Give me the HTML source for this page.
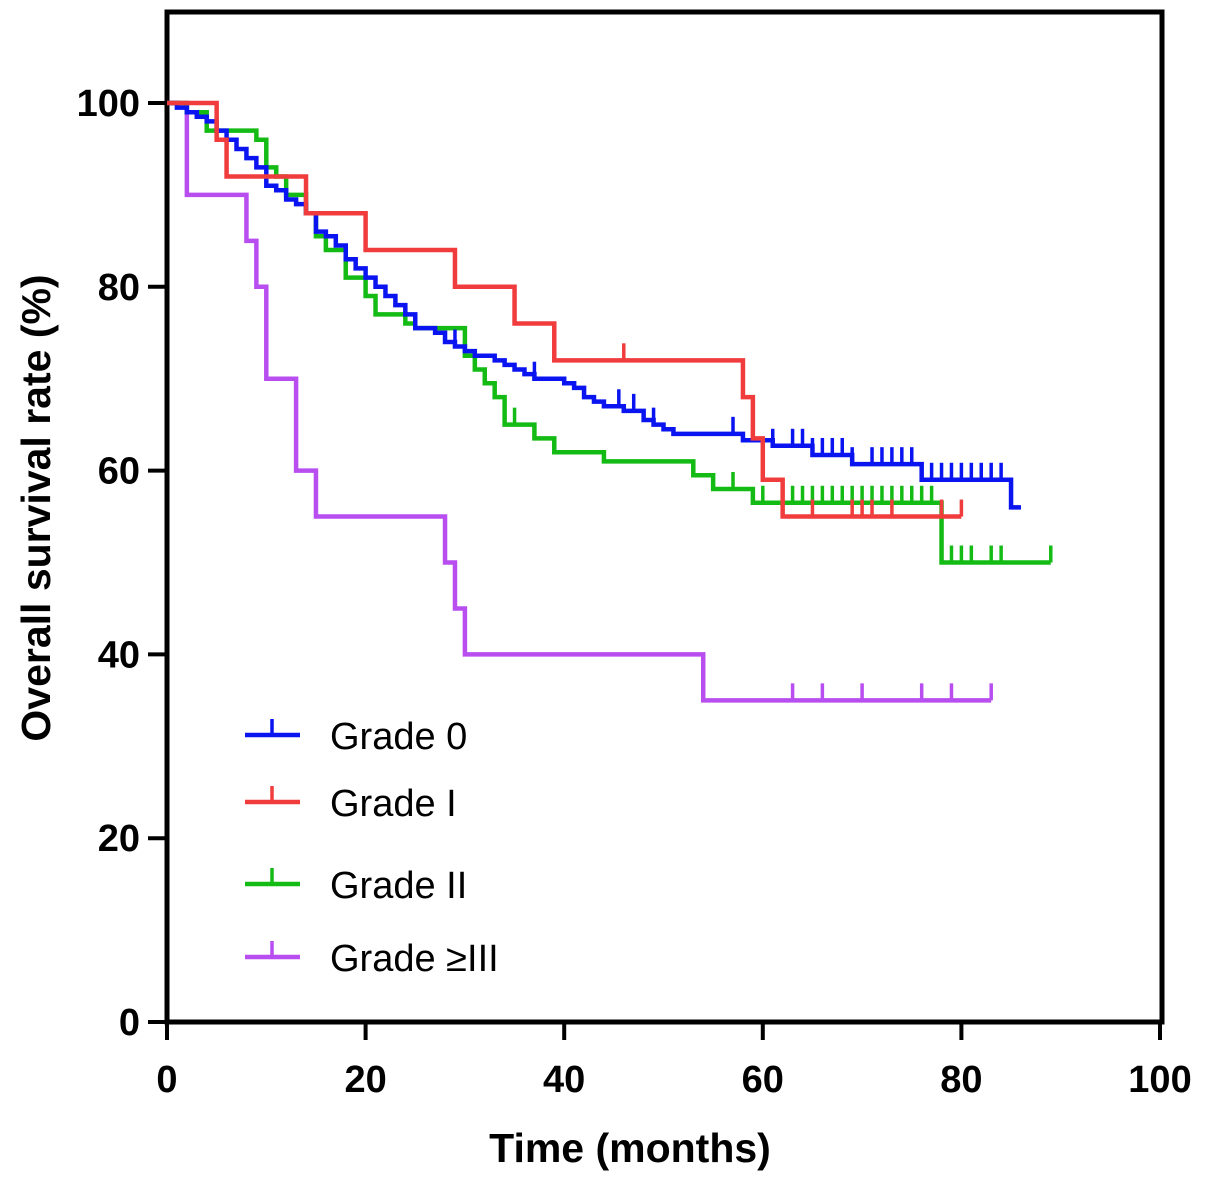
<!DOCTYPE html>
<html><head><meta charset="utf-8"><style>
body{margin:0;background:#fff;}
svg{display:block;font-family:"Liberation Sans",Arial,sans-serif;}
</style></head><body>
<svg id="chart" width="1205" height="1181"></svg>
<script>
const xTicks=[0,20,40,60,80,100];
const yTicks=[0,20,40,60,80,100];
const g0T=[0,1,2,3,4,5,6,7,8,9,10,11,12,13,14,15,16,17,18,19,20,21,22,23,24,25,27,28,29,30,31,33,34,35,36,37,40,41,42,43,44,46,48,49,50,51,58,61,65,69,76,85];
const g0S=[100,99.5,99,98.5,98,97,96,95,94,93,91,90.5,89.5,89,88,86,85.5,84.5,83,82,81,80,79,78,77,75.5,75,74,73.5,73,72.5,72,71.5,71,70.5,70,69.5,69,68,67.5,67,66.5,65.5,65,64.5,64,63.3,62.7,61.7,60.7,59,56];
const g0End=86;
const g0C=[29,37,45.5,47,49,57,59,61,63,64,65,66,67,68,69,71,72,73,74,75,76,77,78,79,80,81,82,83,84];
const g1T=[0,5,6,14,20,29,35,39,58,59,60,62];
const g1S=[100,96,92,88,84,80,76,72,68,63.5,59,55];
const g1End=80;
const g1C=[46,65,69,70,71,73,78,80];
const g2T=[0,2,4,9,10,11,12,14,15,16,18,20,21,24,25,30,31,32,33,34,37,39,44,53,55,59,78];
const g2S=[100,99,97,96,93,92,90,88,85.5,84,81,79,77,76,75.5,72.5,71,69.5,68,65,63.5,62,61,59.5,58,56.5,50];
const g2End=89;
const g2C=[35,57,60,63,64,65,66,67,68,69,70,71,72,73,74,75,76,77,79,80,81,83,84,89];
const g3T=[0,2,8,9,10,13,15,28,29,30,54];
const g3S=[100,90,85,80,70,60,55,50,45,40,35];
const g3End=83;
const g3C=[63,66,70,76,79,83];
const X=t=>167+t*9.93, Y=s=>1022-s*9.19;
const NS="http://www.w3.org/2000/svg";
const svg=document.getElementById('chart');
function el(tag,attrs,parent){const e=document.createElementNS(NS,tag);for(const k in attrs)e.setAttribute(k,attrs[k]);(parent||svg).appendChild(e);return e;}
function series(T,S,end,C,color,name){
  const g=el('g',{});
  
  
  let d='M'+X(T[0])+' '+Y(S[0]);
  for(let i=1;i<T.length;i++){d+=' H'+X(T[i])+' V'+Y(S[i]);}
  d+=' H'+X(end);
  const p=el('path',{d:d,fill:'none',stroke:color,'stroke-width':4.5},g);
  
  
  C.forEach(c=>{
    let s=S[0];for(let i=0;i<T.length;i++){if(T[i]<=c)s=S[i];}
    const m=el('line',{x1:X(c),x2:X(c),y1:Y(s),y2:Y(s)-17,stroke:color,'stroke-width':3.5},g);
    
    
  });
}
const fr=el('path',{d:'M167 12 V1022 H1162 V12 Z',fill:'none',stroke:'#000','stroke-width':5});

xTicks.forEach(v=>{
  const t=el('line',{x1:X(v),x2:X(v),y1:1022,y2:1040,stroke:'#000','stroke-width':4});
  
  const l=el('text',{x:X(v),y:1092,'text-anchor':'middle','font-size':38,'font-weight':'bold'});
  l.textContent=v;
});
yTicks.forEach(v=>{
  const t=el('line',{x1:148,x2:167,y1:Y(v),y2:Y(v),stroke:'#000','stroke-width':4});
  
  const l=el('text',{x:140,y:Y(v)+13,'text-anchor':'end','font-size':38,'font-weight':'bold'});
  l.textContent=v;
});
const xt=el('text',{x:630,y:1162,'text-anchor':'middle','font-size':41,'font-weight':'bold'});
xt.textContent='Time (months)';
const yt=el('text',{x:0,y:0,'text-anchor':'middle','font-size':41,'font-weight':'bold',transform:'translate(50,508) rotate(-90)'});
yt.textContent='Overall survival rate (%)';
series(g3T,g3S,g3End,g3C,'#b84ef0','grade-3');
series(g2T,g2S,g2End,g2C,'#14bb14','grade-2');
series(g0T,g0S,g0End,g0C,'#0a14f0','grade-0');
series(g1T,g1S,g1End,g1C,'#f03c3c','grade-1');
const legendNames=['Grade 0','Grade I','Grade II','Grade \u2265III'];
const legendColors=['#0a14f0','#f03c3c','#14bb14','#b84ef0'];
const legendY=[735,802,884,957];
legendNames.forEach((n,i)=>{
  const g=el('g',{});
  
  el('line',{x1:245,x2:300,y1:legendY[i],y2:legendY[i],stroke:legendColors[i],'stroke-width':4.5},g);
  el('line',{x1:272,x2:272,y1:legendY[i],y2:legendY[i]-16,stroke:legendColors[i],'stroke-width':3.5},g);
  const t=el('text',{x:330,y:legendY[i]+14,'font-size':38},g);
  t.textContent=n;
});
</script>
</body></html>
